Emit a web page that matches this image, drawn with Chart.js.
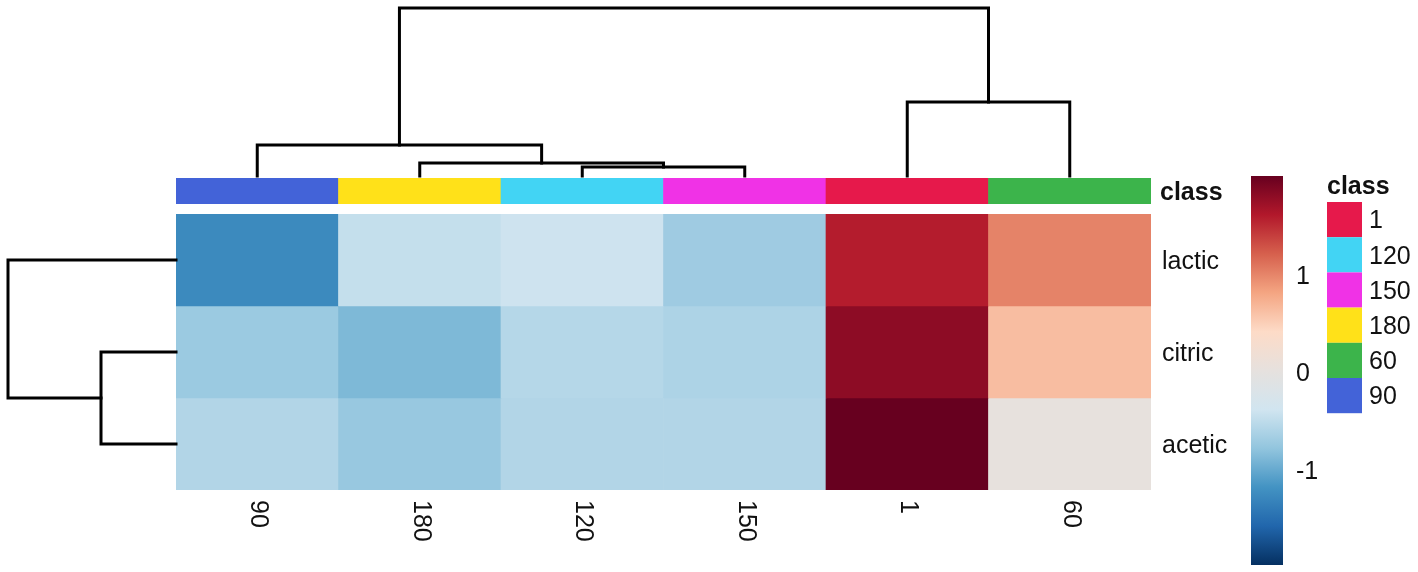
<!DOCTYPE html>
<html><head><meta charset="utf-8">
<script src="https://cdn.jsdelivr.net/npm/chart.js@4.4.0/dist/chart.umd.min.js"></script>
<style>
html,body{margin:0;padding:0;background:#fff;}
#wrap{position:relative;width:1418px;height:572px;background:#fff;overflow:hidden;}
#wrap canvas{position:absolute;left:0;top:0;}
</style></head><body>
<div id="wrap">
<canvas id="cHeat" width="1418" height="572"></canvas>
<canvas id="cAnno" width="1418" height="572"></canvas>
<canvas id="cTop" width="1418" height="572"></canvas>
<canvas id="cLeft" width="1418" height="572"></canvas>
<canvas id="cBar" width="1418" height="572"></canvas>
</div>
<script>
// ---------- data ----------
const columns = ["90", "180", "120", "150", "1", "60"];
const rowNames = ["lactic", "citric", "acetic"];
const lactic = [-1.28, -0.48, -0.42, -0.72, 1.58, 1.0];
const citric = [-0.74, -0.90, -0.58, -0.63, 1.80, 0.62];
const acetic = [-0.60, -0.76, -0.60, -0.60, 2.00, 0.02];
const classLevels = ["1", "120", "150", "180", "60", "90"];
const classColors = ["#E6194B", "#42D4F4", "#F032E6", "#FFE119", "#3CB44B", "#4363D8"];
// hclust-style merges: negative = leaf (1-based, display order), positive = earlier merge
const colMerge = [[-3, -4], [-2, 1], [-1, 2], [-5, -6], [3, 4]];
const colHeights = [0.29, 0.42, 1.0, 2.39, 5.42];
const rowMerge = [[-2, -3], [-1, 1]];
const rowHeights = [1.0, 2.24];
const legendTicks = [1, 0, -1];
const cbMin = -2, cbMax = 2;
const palette = ["#053061", "#2166AC", "#4393C3", "#92C5DE", "#D1E5F0", "#E6E1DE",
                 "#FDDBC7", "#F4A582", "#D6604D", "#B2182B", "#67001F"];

// ---------- helpers ----------
const FONT = '"Liberation Sans", Arial, sans-serif';
function hex2rgb(h){ return [parseInt(h.slice(1,3),16), parseInt(h.slice(3,5),16), parseInt(h.slice(5,7),16)]; }
function mix(a, b, f){ const A = hex2rgb(a), B = hex2rgb(b);
  return 'rgb(' + A.map((v, i) => Math.round(v + (B[i] - v) * f)).join(',') + ')'; }
function colorFor(v){
  let t = (v - cbMin) / (cbMax - cbMin) * (palette.length - 1);
  t = Math.max(0, Math.min(palette.length - 1, t));
  const i = Math.min(Math.floor(t), palette.length - 2);
  return mix(palette[i], palette[i + 1], t - i);
}
function dendroLines(merge, heights){
  const pos = [], hts = [], lines = [];
  const P = k => k < 0 ? (-k - 0.5) : pos[k - 1];
  const H = k => k < 0 ? 0 : hts[k - 1];
  merge.forEach(([a, b], i) => {
    const h = heights[i];
    lines.push([[P(a), H(a)], [P(a), h], [P(b), h], [P(b), H(b)]]);
    pos.push((P(a) + P(b)) / 2); hts.push(h);
  });
  return lines;
}
const base = {
  responsive: false, animation: false, events: [],
  plugins: { legend: { display: false }, tooltip: { enabled: false } }
};
const W = 1418, H = 572;
const heatL = 176, heatR = 1151, heatT = 214, heatB = 490;
const pad = (l, t, r, b) => ({ padding: { left: l, top: t, right: W - r, bottom: H - b } });

// ---------- heatmap ----------
const heatRows = [lactic, citric, acetic];
new Chart(document.getElementById('cHeat'), {
  type: 'bar',
  data: { labels: columns, datasets: heatRows.map((vals, r) => ({
    label: rowNames[r], data: vals.map(() => 1), backgroundColor: vals.map(colorFor),
    borderWidth: 0, barPercentage: 1, categoryPercentage: 1, stack: 's'
  })) },
  options: Object.assign({}, base, {
    layout: pad(heatL, heatT, heatR, heatB),
    scales: { x: { display: false, stacked: true }, y: { display: false, stacked: true, min: 0, max: 3, reverse: true } }
  }),
  plugins: [{ id: 'hmLabels', afterDraw(chart){
    const c = chart.ctx, a = chart.chartArea, xs = chart.scales.x, ys = chart.scales.y;
    c.save(); c.fillStyle = '#111'; c.font = '25px ' + FONT;
    c.textAlign = 'left'; c.textBaseline = 'middle';
    rowNames.forEach((n, i) => c.fillText(n, a.right + 11, ys.getPixelForValue(i + 0.5) + 2));
    columns.forEach((n, i) => {
      c.save(); c.translate(xs.getPixelForValue(i) + 1, a.bottom + 10); c.rotate(Math.PI / 2);
      c.fillText(n, 0, 0); c.restore();
    });
    c.restore();
  } }]
});

// ---------- annotation bar ----------
new Chart(document.getElementById('cAnno'), {
  type: 'bar',
  data: { labels: columns, datasets: [{
    data: columns.map(() => 1),
    backgroundColor: columns.map(cl => classColors[classLevels.indexOf(cl)]),
    borderWidth: 0, barPercentage: 1, categoryPercentage: 1
  }] },
  options: Object.assign({}, base, {
    layout: pad(heatL, 178, heatR, 204),
    scales: { x: { display: false }, y: { display: false, min: 0, max: 1 } }
  }),
  plugins: [{ id: 'annoLabel', afterDraw(chart){
    const c = chart.ctx, a = chart.chartArea;
    c.save(); c.fillStyle = '#111'; c.font = 'bold 25px ' + FONT;
    c.textAlign = 'left'; c.textBaseline = 'middle';
    c.fillText('class', a.right + 9, (a.top + a.bottom) / 2 + 2);
    c.restore();
  } }]
});

// ---------- dendrograms ----------
const lineStyle = { borderColor: '#000', borderWidth: 3, pointRadius: 0, showLine: true,
  fill: false, tension: 0, clip: false, borderCapStyle: 'square', borderJoinStyle: 'miter' };
new Chart(document.getElementById('cTop'), {
  type: 'scatter',
  data: { datasets: dendroLines(colMerge, colHeights).map(l =>
    Object.assign({ data: l.map(([p, h]) => ({ x: p, y: h })) }, lineStyle)) },
  options: Object.assign({}, base, {
    layout: pad(heatL, 8, heatR, 176),
    scales: { x: { display: false, min: 0, max: columns.length },
              y: { display: false, min: 0, max: Math.max(...colHeights) } }
  })
});
new Chart(document.getElementById('cLeft'), {
  type: 'scatter',
  data: { datasets: dendroLines(rowMerge, rowHeights).map(l =>
    Object.assign({ data: l.map(([p, h]) => ({ x: h, y: p })) }, lineStyle)) },
  options: Object.assign({}, base, {
    layout: pad(8, heatT, heatL, heatB),
    scales: { x: { display: false, min: 0, max: Math.max(...rowHeights), reverse: true },
              y: { display: false, min: 0, max: rowNames.length, reverse: true } }
  })
});

// ---------- colour bar + class legend ----------
new Chart(document.getElementById('cBar'), {
  type: 'bar',
  data: { labels: [''], datasets: [{
    data: [[cbMin, cbMax]], borderWidth: 0, barPercentage: 1, categoryPercentage: 1,
    backgroundColor: (ctx) => {
      const ch = ctx.chart; if (!ch.chartArea) return palette[5];
      const y = ch.scales.y;
      const g = ch.ctx.createLinearGradient(0, y.getPixelForValue(cbMin), 0, y.getPixelForValue(cbMax));
      palette.forEach((p, i) => g.addColorStop(i / (palette.length - 1), p));
      return g;
    }
  }] },
  options: Object.assign({}, base, {
    layout: pad(1251, 176, 1283, 565),
    scales: { x: { display: false }, y: { display: false, min: cbMin, max: cbMax } }
  }),
  plugins: [{ id: 'legendDraw', afterDraw(chart){
    const c = chart.ctx, a = chart.chartArea, ys = chart.scales.y;
    c.save(); c.fillStyle = '#111'; c.font = '25px ' + FONT;
    c.textAlign = 'left'; c.textBaseline = 'middle';
    legendTicks.forEach(t => c.fillText(String(t), a.right + 13, ys.getPixelForValue(t) + 4));
    // class legend
    const lx = 1327, ly = 202, bw = 35, bh = 35.2;
    c.font = 'bold 25px ' + FONT; c.textBaseline = 'alphabetic';
    c.fillText('class', lx, 194);
    c.font = '25px ' + FONT; c.textBaseline = 'middle';
    classLevels.forEach((cl, i) => {
      c.fillStyle = classColors[i];
      c.fillRect(lx, ly + i * bh, bw, bh);
      c.fillStyle = '#111';
      c.fillText(cl, lx + bw + 7, ly + i * bh + bh / 2 + 2);
    });
    c.restore();
  } }]
});
</script>
</body></html>
